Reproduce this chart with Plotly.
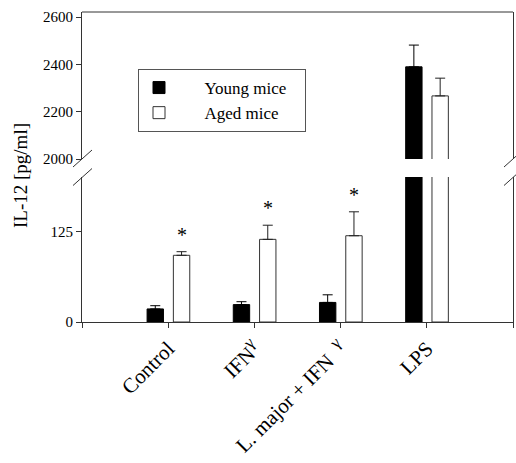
import plotly.graph_objects as go

GAMMA = "<sup><span style='font-size:17px'>γ</span></sup>"
categories = ["Control", "IFN" + GAMMA, "L. major + IFN  " + GAMMA, "LPS"]
young_vals = [18, 24, 27, 2390]
young_err = [4.5, 4, 10.5, 92]
aged_vals = [92, 114, 119, 2267]
aged_err = [5, 19.5, 33, 75]
significant = [True, True, True, False]
y_low_ticks = [0, 125]
y_high_ticks = [2000, 2200, 2400, 2600]
NB = "\u00a0"
legend_names = [NB * 6 + "Young mice" + NB * 3, NB * 6 + "Aged mice" + NB * 3]

FONT = "Liberation Serif"
xpos = [i + 1 for i in range(len(categories))]
W, H = 516, 463
ML, MT = 82, 12
MR = W - 513
MB = H - 322
PH = H - MT - MB
PW = W - ML - MR

def py(pix):
    return (322 - pix) / PH

def px(pix):
    return (pix - 82) / PW

low_dom = [0, py(177)]
high_dom = [py(159), 1]

fig = go.Figure()
for yax, show in (("y", True), ("y2", False)):
    fig.add_trace(go.Bar(
        x=xpos, y=young_vals, name=legend_names[0], yaxis=yax, showlegend=show,
        width=0.19, offset=-0.245,
        marker=dict(color="black", line=dict(color="black", width=1)),
        error_y=dict(type="data", symmetric=False, array=young_err,
                     arrayminus=[0] * len(young_err), color="black", thickness=1, width=5),
    ))
    fig.add_trace(go.Bar(
        x=xpos, y=aged_vals, name=legend_names[1], yaxis=yax, showlegend=show,
        width=0.19, offset=0.06,
        marker=dict(color="white", line=dict(color="#333", width=1)),
        error_y=dict(type="data", symmetric=False, array=aged_err,
                     arrayminus=[0] * len(aged_err), color="#222", thickness=1, width=5),
    ))

for i, sig in enumerate(significant):
    if sig:
        fig.add_annotation(x=xpos[i] + 0.155, y=aged_vals[i] + aged_err[i], xref="x", yref="y",
                           text="*", showarrow=False, yanchor="bottom", yshift=4,
                           font=dict(family=FONT, size=20, color="black"))

fig.add_annotation(x=px(20), y=py(176), xref="paper", yref="paper",
                   xanchor="center", yanchor="middle",
                   text="IL-12 [pg/ml]", textangle=-90, showarrow=False,
                   font=dict(family=FONT, size=19, color="black"))

axcol = "#333"
# top frame line of the upper panel
fig.add_shape(type="line", xref="paper", yref="paper", x0=0, x1=1, y0=1, y1=1,
              line=dict(color=axcol, width=1))
# axis break marks
for xa in (0, 1):
    for yp in (158.5, 177):
        fig.add_shape(type="line", xref="paper", yref="paper",
                      xsizemode="pixel", ysizemode="pixel", xanchor=xa, yanchor=py(yp),
                      x0=-9, x1=10, y0=-8.5, y1=8.5,
                      line=dict(color=axcol, width=1))

fig.update_layout(
    width=W, height=H, margin=dict(l=ML, r=MR, t=MT, b=MB, autoexpand=False),
    plot_bgcolor="white", paper_bgcolor="white", barmode="overlay",
    font=dict(family=FONT, color="black"),
    xaxis=dict(range=[0, 5], anchor="y", tickvals=[0, 1, 2, 3, 4, 5],
               ticktext=[""] + categories + [""], tickangle=-45, automargin=False,
               ticks="outside", ticklen=5, tickcolor=axcol, showline=True, linecolor=axcol,
               showgrid=False, zeroline=False, tickfont=dict(family=FONT, size=21)),
    yaxis=dict(domain=low_dom, range=[0, 200], tickvals=y_low_ticks, ticks="outside",
               automargin=False, ticklen=5, tickcolor=axcol, showline=True, mirror=True,
               linecolor=axcol, showgrid=False, zeroline=False,
               tickfont=dict(family=FONT, size=15)),
    yaxis2=dict(domain=high_dom, range=[2000, 2622], tickvals=y_high_ticks, ticks="outside",
                automargin=False, ticklen=5, tickcolor=axcol, showline=True, mirror=True,
                linecolor=axcol, showgrid=False, zeroline=False, anchor="x",
                tickfont=dict(family=FONT, size=15)),
    legend=dict(x=px(138), y=py(69), xanchor="left", yanchor="top",
                bordercolor="#555", borderwidth=1, bgcolor="white",
                font=dict(family=FONT, size=17), itemwidth=30, tracegroupgap=0),
    showlegend=True,
)
fig.write_html("out.html", config={"displayModeBar": False},
               post_script="document.body.style.margin='0';document.body.style.overflow='hidden';")
